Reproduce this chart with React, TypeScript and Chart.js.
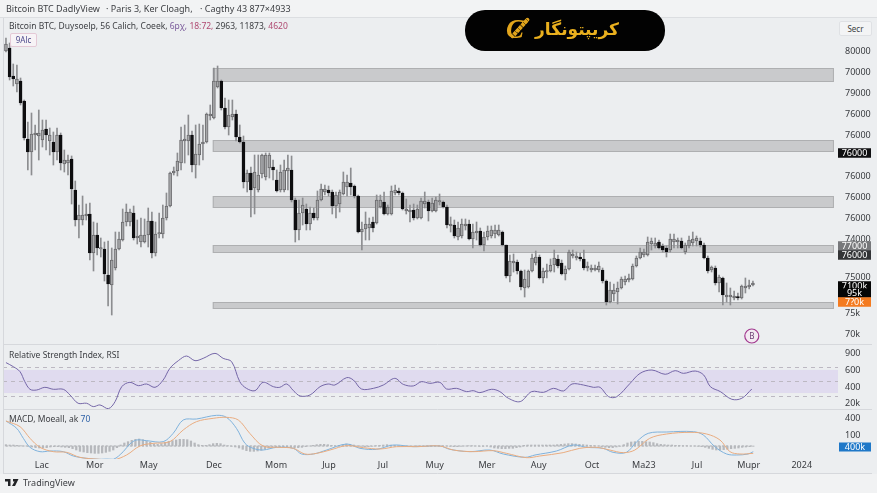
import React, { useEffect, useRef } from "react";
import { Chart, registerables } from "chart.js";

Chart.register(...registerables);

const opens = [293,296,268,260,263,243,205,192,209,208,204,215,203,202,192,209,180,181,185,154,124,124,128,130,91,109,95,95,69,59,76,95,104,122,122,131,106,102,102,109,123,91,110,110,126,138,171,173,181,203,203,209,179,189,200,202,228,226,257,263,236,217,227,230,207,202,162,171,156,154,170,167,176,177,164,154,154,173,174,144,114,131,135,120,131,126,144,152,154,152,138,140,150,157,161,158,148,112,115,116,122,121,137,142,130,130,151,153,151,133,132,134,126,126,140,142,133,133,142,142,137,118,119,107,108,118,120,105,111,113,99,107,108,110,109,112,99,68,81,82,73,56,57,73,81,87,66,72,73,79,85,81,70,75,88,86,87,85,76,74,74,74,74,63,42,50,52,56,62,64,65,78,86,89,89,100,98,102,98,96,94,102,102,103,92,98,101,103,103,99,86,74,76,61,66,47,47,46,47,46,56,57,59];
const closes = [300,267,265,265,241,206,192,210,211,211,214,209,209,192,209,181,184,184,155,124,129,129,130,91,109,96,96,70,60,84,95,105,122,132,132,106,108,109,109,123,91,110,111,126,138,171,173,183,204,205,209,179,190,200,202,230,230,263,263,236,217,229,230,207,202,162,171,154,172,169,189,189,189,174,153,172,174,176,144,114,131,139,120,131,126,144,155,155,151,138,149,152,162,162,157,148,112,115,120,120,116,144,144,130,137,153,154,151,135,135,134,126,135,143,143,133,141,144,143,137,119,120,108,116,120,120,105,112,113,99,107,113,114,114,114,99,68,83,83,73,57,65,73,86,87,66,73,73,79,86,78,70,75,92,90,88,85,76,78,76,76,78,63,42,54,54,56,65,65,66,78,86,92,92,102,103,101,96,94,92,105,105,104,96,99,104,105,106,99,86,73,77,61,67,49,49,49,48,46,58,58,59,61];
const highs = [306,301,280,279,266,244,222,231,219,234,224,224,216,212,216,211,194,189,188,163,139,148,140,141,122,121,106,102,103,96,112,112,135,140,135,138,124,126,125,136,132,122,131,139,151,172,177,191,217,219,229,213,219,220,219,231,239,276,278,264,246,244,244,234,219,208,174,177,189,189,190,191,191,184,174,179,184,189,188,146,144,146,140,137,136,153,160,159,158,154,152,154,172,169,176,159,149,122,132,126,127,149,149,152,139,158,159,156,152,145,139,140,139,146,152,144,146,147,150,143,139,127,124,122,125,125,124,120,122,116,112,118,118,119,119,113,99,89,90,84,74,74,74,90,93,89,76,80,85,94,89,84,78,94,94,92,91,94,82,79,79,82,76,64,62,60,62,67,68,70,80,88,96,95,107,106,106,104,100,98,110,110,106,106,101,108,112,108,106,101,88,78,78,69,67,61,56,53,51,59,66,64,63];
const lows = [292,264,258,252,239,204,174,169,194,184,197,194,189,179,184,174,172,169,140,118,106,119,124,84,73,89,87,63,38,29,74,94,103,118,118,104,100,97,101,97,86,88,106,106,124,137,169,168,174,181,189,172,166,179,184,201,224,225,256,234,215,209,224,203,201,156,152,127,130,152,166,164,166,164,152,152,152,154,142,102,104,119,114,114,124,124,143,149,148,130,126,132,149,148,149,146,111,94,104,104,112,120,136,129,129,129,149,149,134,130,122,124,125,125,136,123,132,132,139,136,116,112,106,104,106,114,104,96,104,98,93,104,106,106,108,98,66,62,72,70,54,47,56,72,79,65,61,66,72,72,76,69,64,74,86,84,83,74,73,72,73,72,61,39,41,43,40,55,59,62,64,77,85,87,88,94,96,95,92,87,92,96,96,95,90,96,98,98,97,85,71,72,59,52,39,42,39,44,44,45,51,55,58];

const zoneTops = [276, 204, 148, 99, 42];
const zoneBottoms = [262, 192, 136, 91, 35];
const zoneStart = 55.9;
const zoneEnd = 223.8;

const rsiX = [0,2,3.8,5.1,6.5,8.3,10.5,12.8,15.5,17.3,19.5,21.8,23.6,25.4,27.7,29.5,31.3,33.5,35.8,38,40.3,42.5,44.3,46.6,48.8,51.1,53.3,56.5,58.7,61,63.2,65,67.3,69.5,72.3,74,75.9,77.7,79.5,82.2,84.9,87.1,88.9,92.1,93.9,96.1,99.3,102,105.1,107.4,110.1,112.3,114.6,117.3,119.1,121.8,124.5,126.3,128.1,131.3,133.5,135.8,139,142.1,145.3,148,150.7,153,156.1,158.8,160.6,162.9,165.1,168.7,171.4,174.6,178.2,180.9,183.1,186.3,188.6,190.4,193.1,196.2,198.9,201.6];
const rsiValues = [76,70.4,63.5,49.7,39.2,38.2,41.9,39.2,39.2,31.4,19.9,19.9,15.3,17.6,12.5,22.2,42.8,48.8,44.2,46.5,41.9,52,68.1,78.7,85.1,78.7,81.9,88.8,81.9,77.3,49.7,40.5,37.3,48.8,42.8,41.9,46.5,37.3,30,31.4,42.8,46.5,45.1,55.3,52,39.6,40.5,45.1,54.3,46,43.8,49.7,47.4,48.8,39.6,40.5,36,37.3,34.6,39.2,36,26.8,22.2,36,35,40.5,36.9,46.5,45.1,41.9,41.9,29,29,47.4,61.2,65.8,59.9,64.9,61.2,64.4,58.9,42.8,36,25.4,26.8,39.6];
const rsiBandHigh = 66;
const rsiBandLow = 34;
const rsiLevels = [70, 50, 30];

const macdX = [0,2.9,4.7,6.5,9.2,11.9,15.5,18.2,21.8,25.4,29,31.7,33.5,35.3,38,42.5,45.2,47.9,51.5,56.9,59.6,62.3,64.6,66.8,69.5,73.2,77.7,79.9,83.1,86.7,92.1,95.7,100.2,104.7,110.1,117.3,120,125.4,130.8,134.4,140.3,143,148.8,153.3,157,161.4,164.1,167.7,170.5,173.6,178.6,185.8,188.5,191.6,194.8,197.5,200.6,202];
const macdValues = [75,53,23,-4,-17,-15,-17,-30,-37,-40,-40,-17,6,18,16,13,38,78,81,92,86,53,8,-7,-12,-4,-7,-24,-24,-12,6,-7,-10,3,-2,0,-10,-17,-12,-24,-34,-27,-15,3,-4,-7,-19,-19,13,38,42,43,33,-2,-24,-27,-24,-17];
const signalX = [0,3.8,6.5,9.2,12.8,16.4,20,25.4,29,32.6,36.2,39.8,44.3,47.9,51.5,56,59.6,62.8,65.9,69.5,74,77.7,80.8,84,87.6,92.1,96.6,101.1,105.6,111,117.3,120.9,126.3,131.7,135.3,140.7,144.3,150.6,155.1,159.6,163.2,166.9,170,174,178.6,184.9,189.4,193,195.7,198.4,202];
const signalValues = [75,58,23,-4,-17,-19,-34,-40,-42,-27,0,8,13,48,73,83,86,78,38,0,-4,-7,-24,-22,-12,1,-5,-9,-2,-2,0,-12,-17,-14,-22,-35,-30,-20,-7,-4,-12,-20,-12,23,36,41,36,18,-17,-24,-22];
const histogram = [4,3,3,2,1,0,-1,-3,-5,-6,-6,-5,-3,-2,-2,-3,-4,-5,-8,-12,-16,-18,-20,-21,-22,-22,-21,-19,-16,-12,-5,3,9,13,17,20,21,19,15,11,6,5,7,11,14,16,18,20,20,19,15,9,4,2,2,4,7,8,7,3,1,-1,-3,-6,-10,-14,-16,-16,-15,-13,-9,-6,-4,-3,-3,-3,-3,-4,-5,-5,-4,-2,0,2,4,5,5,4,2,1,2,4,6,5,3,1,-1,-2,-2,-1,1,2,3,4,3,2,1,0,-1,-1,0,1,1,0,-1,-1,0,1,1,0,-1,-2,-2,-1,0,1,1,0,-1,-1,0,-3,-6,-7,-8,-8,-7,-7,-5,-3,2,3,3,3,3,3,3,3,3,4,5,6,7,7,6,5,4,3,2,1,0,-2,-4,-5,-5,-3,-1,4,9,12,13,14,14,13,12,10,7,5,4,3,3,2,2,1,1,0,0,-1,-2,-4,-7,-10,-12,-13,-11,-10,-8,-7,-6,-4,-3,-2,-1];

const xTickValues = [9.7,24,38.6,56.2,73,87.3,101.9,115.9,130,144,158.4,172.4,186.8,200.8,215.1];
const xTickLabels = ["Lac","Mor","May","Dec","Mom","Jup","Jul","Muy","Mer","Auy","Oct","Ma23","Jul","Mupr","2024"];
const priceTickValues = [293,272,251,230,209,168,147,126,105,67,31,10];
const priceTickLabels = ["80000","70000","79000","76000","76000","76000","76000","76000","74000","75000","75k","70k"];
const rsiTickValues = [89.3,65.9,42.4,19];
const rsiTickLabels = ["900","600","400","20k"];
const macdTickValues = [84,33];
const macdTickLabels = ["400","100"];

const priceTagValues = [191, 98, 89, 58, 51, 42];
const priceTagLabels = ["76000", "77000", "76000", "7100k", "95k", "7?0k"];
const priceTagColors = ["#101012", "#77787b", "#333436", "#060606", "#060606", "#f47b20"];
const macdTagValue = -3;
const macdTagLabel = "400k";
const markerX = 201.6;
const markerY = 8;
const markerLabel = "B";

const FONT = '"Noto Sans", sans-serif';

// The candles were counted off the picture with a slight drift; this keeps each one at the column where it was read.
const candleX = (i: number) => (i <= 57 ? i * 0.986 : i <= 158 ? i - 0.8 : 157.2 + (i - 158) * 1.016);

const panePlugin = {
  id: "panes",
  beforeDatasetsDraw(chart: any) {
    const { ctx, scales } = chart;
    const { x, y, yRsi } = scales;
    ctx.save();
    // support / resistance zones
    zoneTops.forEach((top, i) => {
      const x0 = x.getPixelForValue(zoneStart);
      const x1 = x.getPixelForValue(zoneEnd);
      const y0 = y.getPixelForValue(top);
      const y1 = y.getPixelForValue(zoneBottoms[i]);
      ctx.fillStyle = "#c9cacc";
      ctx.strokeStyle = "#aeafb1";
      ctx.lineWidth = 1;
      ctx.fillRect(x0, y0, x1 - x0, y1 - y0);
      ctx.strokeRect(x0 + 0.5, y0 + 0.5, x1 - x0 - 1, y1 - y0 - 1);
    });
    // RSI band and levels
    const left = x.left;
    const right = x.right;
    const by0 = yRsi.getPixelForValue(rsiBandHigh);
    const by1 = yRsi.getPixelForValue(rsiBandLow);
    ctx.fillStyle = "#e0dbef";
    ctx.fillRect(left, by0, right - left, by1 - by0);
    ctx.strokeStyle = "#bcb8c2";
    ctx.setLineDash([4, 4]);
    rsiLevels.forEach((level) => {
      const py = Math.round(yRsi.getPixelForValue(level)) + 0.5;
      ctx.beginPath();
      ctx.moveTo(left, py);
      ctx.lineTo(right, py);
      ctx.stroke();
    });
    ctx.setLineDash([]);
    ctx.restore();
  },
  afterDraw(chart: any) {
    const { ctx, scales } = chart;
    const { x, y, yRsi, yMacd } = scales;
    ctx.save();
    // pane separators
    ctx.strokeStyle = "#d6d8dc";
    ctx.lineWidth = 1;
    [yRsi.top, yMacd.top, x.bottom].forEach((p: number) => {
      const py = Math.round(p) + 0.5;
      ctx.beginPath();
      ctx.moveTo(x.left, py);
      ctx.lineTo(872, py);
      ctx.stroke();
    });
    ctx.beginPath();
    ctx.moveTo(x.left + 0.5, 18);
    ctx.lineTo(x.left + 0.5, x.bottom);
    ctx.stroke();
    // price tags
    ctx.textAlign = "center";
    ctx.textBaseline = "middle";
    ctx.font = `9px ${FONT}`;
    const tagLeft = x.right;
    const tagWidth = 33;
    priceTagValues.forEach((v, i) => {
      const py = y.getPixelForValue(v);
      const h = 8.5;
      ctx.fillStyle = priceTagColors[i];
      ctx.fillRect(tagLeft, py - h / 2 - 0.5, tagWidth, h + 1);
      ctx.fillStyle = "#ffffff";
      ctx.fillText(priceTagLabels[i], tagLeft + tagWidth / 2, py);
    });
    const my = yMacd.getPixelForValue(macdTagValue);
    ctx.fillStyle = "#1f78c8";
    ctx.fillRect(tagLeft + 1, my - 4.5, 32, 9);
    ctx.fillStyle = "#ffffff";
    ctx.fillText(macdTagLabel, tagLeft + 17, my);
    // event marker
    const cx = x.getPixelForValue(markerX);
    const cy = y.getPixelForValue(markerY);
    ctx.beginPath();
    ctx.arc(cx, cy, 7, 0, Math.PI * 2);
    ctx.fillStyle = "#f3eaf2";
    ctx.fill();
    ctx.strokeStyle = "#a2398f";
    ctx.lineWidth = 1.2;
    ctx.stroke();
    ctx.fillStyle = "#6d3f73";
    ctx.font = `8px ${FONT}`;
    ctx.fillText(markerLabel, cx, cy + 0.5);
    ctx.restore();
  },
};

const fixedTicks = (values: number[]) => (scale: any) => {
  scale.ticks = values.map((value) => ({ value }));
};

const yAxis = (min: number, max: number, weight: number, values: number[], labels: string[], layer: number) => ({
  type: "linear",
  position: "right",
  stack: "panes",
  stackWeight: weight,
  weight: layer,
  offset: false,
  min,
  max,
  grid: { display: false, drawTicks: false },
  border: { display: false },
  afterBuildTicks: fixedTicks(values),
  afterFit: (scale: any) => {
    scale.width = 39;
  },
  ticks: {
    autoSkip: false,
    padding: 7,
    color: "#3a3c40",
    font: { family: FONT, size: 9 },
    callback: (_v: any, i: number) => labels[i],
  },
});

const candleUp = (i: number) => closes[i] >= opens[i];

export default function App() {
  const ref = useRef<HTMLCanvasElement>(null);

  useEffect(() => {
    const wicks = lows.map((l, i) => ({ x: candleX(i), y: [l, highs[i]] }));
    const bodies = opens.map((o, i) => ({ x: candleX(i), y: [o, closes[i]] }));
    const chart = new Chart(ref.current as HTMLCanvasElement, {
      type: "bar",
      data: {
        datasets: [
          {
            type: "line",
            data: rsiX.map((x, i) => ({ x, y: rsiValues[i] })),
            yAxisID: "yRsi",
            borderColor: "#7567a8",
            borderWidth: 1,
            pointRadius: 0,
            tension: 0.35,
            order: 1,
          },
          {
            type: "line",
            data: signalX.map((x, i) => ({ x, y: signalValues[i] })),
            yAxisID: "yMacd",
            borderColor: "#e9ac80",
            borderWidth: 1,
            pointRadius: 0,
            tension: 0.35,
            order: 1,
          },
          {
            type: "line",
            data: macdX.map((x, i) => ({ x, y: macdValues[i] })),
            yAxisID: "yMacd",
            borderColor: "#7fb2dc",
            borderWidth: 1,
            pointRadius: 0,
            tension: 0.35,
            order: 2,
          },
          {
            type: "line",
            data: [
              { x: 0, y: 0 },
              { x: histogram.length - 1, y: 0 },
            ],
            yAxisID: "yMacd",
            borderColor: "#a9abb0",
            borderWidth: 1,
            borderDash: [2, 2],
            pointRadius: 0,
            order: 4,
          },
          {
            type: "bar",
            data: histogram.map((v, i) => ({ x: i, y: v })),
            yAxisID: "yMacd",
            backgroundColor: "#b6b8bc",
            barThickness: 1.6,
            grouped: false,
            order: 3,
          },
          {
            type: "bar",
            data: bodies,
            yAxisID: "y",
            backgroundColor: opens.map((_, i) => (candleUp(i) ? "#a6a7a9" : "#0e0e10")),
            borderColor: opens.map((_, i) => (candleUp(i) ? "#6a6a6d" : "#0e0e10")),
            borderWidth: 1,
            borderSkipped: false,
            barThickness: 3,
            minBarLength: 1.5,
            grouped: false,
            order: 5,
          },
          {
            type: "bar",
            data: wicks,
            yAxisID: "y",
            backgroundColor: "#8c8d90",
            barThickness: 1,
            grouped: false,
            order: 6,
          },
        ],
      } as any,
      options: {
        responsive: false,
        animation: false,
        layout: { padding: { left: 3, top: 18, bottom: 20, right: 0 } },
        plugins: { legend: { display: false }, tooltip: { enabled: false }, title: { display: false } },
        scales: {
          x: {
            type: "linear",
            offset: false,
            min: -0.8,
            max: 224.9,
            grid: { display: false, drawTicks: false },
            border: { display: false },
            afterBuildTicks: fixedTicks(xTickValues),
            afterFit: (scale: any) => {
              scale.height = 14;
            },
            ticks: {
              autoSkip: false,
              maxRotation: 0,
              padding: 1,
              color: "#3a3c40",
              font: { family: FONT, size: 9 },
              callback: (_v: any, i: number) => xTickLabels[i],
            },
          },
          y: yAxis(0, 326, 326, priceTickValues, priceTickLabels, 1),
          yRsi: yAxis(12, 101.7, 65, rsiTickValues, rsiTickLabels, 2),
          yMacd: yAxis(-39, 111, 50, macdTickValues, macdTickLabels, 3),
        },
      } as any,
      plugins: [panePlugin],
    });
    return () => chart.destroy();
  }, []);

  const abs = (s: React.CSSProperties): React.CSSProperties => ({
    position: "absolute",
    whiteSpace: "nowrap",
    fontFamily: FONT,
    ...s,
  });

  return (
    <div style={{ position: "fixed", left: 0, top: 0, width: 877, height: 493, overflow: "hidden", background: "#eceef0" }}>
      <div style={abs({ left: 0, top: 0, width: 877, height: 17, background: "#f2f3f4", borderBottom: "1px solid #dcdee1" })} />
      <div style={abs({ left: 0, top: 474, width: 877, height: 19, background: "#f1f2f3" })} />
      <canvas ref={ref} width={877} height={493} style={{ position: "absolute", left: 0, top: 0, display: "block" }} />

      <div style={abs({ left: 6, top: 3, fontSize: 9, lineHeight: "12px", color: "#3c3e42" })}>Bitcoin BTC DadlyView</div>
      <div style={abs({ left: 106, top: 3, fontSize: 9, lineHeight: "12px", color: "#3c3e42" })}>· Paris 3, Ker Cloagh,</div>
      <div style={abs({ left: 200, top: 3, fontSize: 9, lineHeight: "12px", color: "#3c3e42" })}>· Cagthy 43 877×4933</div>

      <div style={abs({ left: 9, top: 20, fontSize: 8.5, lineHeight: "12px", color: "#3c3e42" })}>
        Bitcoin BTC, Duysoelp, 56 Calich, Coeek, <span style={{ color: "#7a5a9a" }}>6pχ,</span>{" "}
        <span style={{ color: "#b04a72" }}>18:72,</span> 2963, 11873, <span style={{ color: "#b04a72" }}>4620</span>
      </div>
      <div style={abs({ left: 10, top: 33, width: 27, height: 14, background: "#f7f3f6", border: "1px solid #e4c9d6", borderRadius: 2, boxSizing: "border-box", fontSize: 8, lineHeight: "12px", textAlign: "center", color: "#4c4a8c" })}>9Alc</div>

      <div style={abs({ left: 839, top: 21, width: 33, height: 15, background: "#f3f4f5", border: "1px solid #dfe1e4", borderRadius: 2, boxSizing: "border-box", fontSize: 8, lineHeight: "13px", textAlign: "center", color: "#3c3e42" })}>Secr</div>

      <div style={abs({ left: 465, top: 10, width: 200, height: 41, background: "#020202", borderRadius: 20 })} />
      <div style={abs({ left: 506, top: 12, fontFamily: '"Liberation Serif", serif', fontStyle: "italic", fontWeight: 700, fontSize: 27, lineHeight: "34px", color: "#e2a51c" })}>C</div>
      <div style={abs({ left: 507, top: 26, width: 26, height: 4, background: "repeating-linear-gradient(90deg,#e2a51c 0 3px,#7a5a10 3px 4px)", transform: "rotate(-48deg)", borderRadius: 2 })} />
      <div dir="rtl" style={abs({ left: 533, top: 15, width: 88, fontFamily: '"DejaVu Sans", sans-serif', fontWeight: 700, fontSize: 17, lineHeight: "28px", textAlign: "center", color: "#eab01e" })}>کریپتونگار</div>

      <div style={abs({ left: 9, top: 349, fontSize: 8.5, lineHeight: "12px", color: "#3c3e42" })}>Relative Strength Index, RSI</div>
      <div style={abs({ left: 9, top: 413, fontSize: 8.5, lineHeight: "12px", color: "#3c3e42" })}>
        MACD, Moeall, ak <span style={{ color: "#2f62a8" }}>70</span>
      </div>

      <svg style={{ position: "absolute", left: 5, top: 479 }} width="14" height="8" viewBox="0 0 14 8">
        <path d="M0 0H5.5V7H3V2.5H0Z M8 0H13.5L10 7H7L9.5 2.5H8Z" fill="#222326" />
      </svg>
      <div style={abs({ left: 23, top: 477, fontSize: 9, lineHeight: "12px", color: "#3c3e42" })}>TradingView</div>
    </div>
  );
}
